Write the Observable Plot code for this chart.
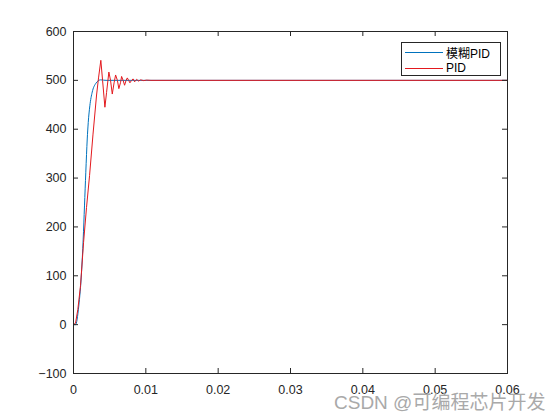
<!DOCTYPE html>
<html>
<head>
<meta charset="utf-8">
<script src="https://cdn.jsdelivr.net/npm/d3@7"></script>
<script src="https://cdn.jsdelivr.net/npm/@observablehq/plot@0.6"></script>
<style>
  html, body { margin: 0; padding: 0; background: #fff; }
  #wrap { position: relative; width: 560px; height: 420px; overflow: hidden; }
  #legend { position: absolute; left: 401px; top: 42px; width: 98px; height: 32px; background: #fff;
    border: 1px solid #262626; font-family: "Liberation Sans", "Noto Sans CJK SC", sans-serif; font-size: 12px; color: #000; }
  .item { position: absolute; left: 3px; height: 14px; display: flex; align-items: center; }
  .item span.l { display: inline-block; width: 38px; height: 0; border-top: 1px solid; margin-right: 3px; }
  #wm { position: absolute; left: 334px; top: 393px; font-family: "Liberation Sans", "Noto Sans CJK SC", sans-serif;
    font-size: 19px; line-height: 1; color: #a9a9a9; white-space: nowrap; }
</style>
</head>
<body>
<div id="wrap"></div>
<script>
// Fuzzy PID (模糊PID) step response
const tFuzzy = [0, 0.00028, 0.00073, 0.00111, 0.00134, 0.00152, 0.0017, 0.0019, 0.00204, 0.00226, 0.00259, 0.00305, 0.00374, 0.0045, 0.06];
const yFuzzy = [0, 0, 38, 107, 175, 243, 312, 380, 414, 448, 476, 493, 501, 500, 500];
// Conventional PID step response
const tPid = [0, 0.00028, 0.0006, 0.00097, 0.00139, 0.0018, 0.00222, 0.0027, 0.00319, 0.00346, 0.00378, 0.00402, 0.00434, 0.00457, 0.00489, 0.00512, 0.00536, 0.00561, 0.00582, 0.00607, 0.00627, 0.00651, 0.00665, 0.00686, 0.00706, 0.00727, 0.00744, 0.00762, 0.0078, 0.00803, 0.00824, 0.00845, 0.00873, 0.009, 0.00928, 0.0097, 0.0101, 0.0107, 0.06];
const yPid = [0, 3, 31, 80, 168, 240, 305, 390, 470, 505, 541, 500, 445, 475, 517, 500, 472, 495, 511, 500, 483, 496, 508, 500, 490, 500, 505, 500, 495, 500, 503, 497, 502, 498.5, 501, 499.5, 500.5, 500, 500];

const xTicks = [0, 0.01, 0.02, 0.03, 0.04, 0.05, 0.06];
const yTicks = [-100, 0, 100, 200, 300, 400, 500, 600];
const seriesNames = ["模糊PID", "PID"];
const seriesColors = ["#0072bd", "#e3191e"];

const fuzzy = tFuzzy.map((t, i) => ({t, v: yFuzzy[i]}));
const pid = tPid.map((t, i) => ({t, v: yPid[i]}));

const W = 560, H = 420, mL = 73, mR = 53, mT = 31, mB = 47;
const iw = W - mL - mR, ih = H - mT - mB, tk = 5;
const axisColor = "#262626";

const chart = Plot.plot({
  width: W, height: H,
  marginLeft: mL, marginRight: mR, marginTop: mT, marginBottom: mB,
  style: {fontFamily: "Liberation Sans, Arial, sans-serif", fontSize: "12.5px", color: axisColor, background: "#fff"},
  x: {domain: [0, 0.06], ticks: xTicks, tickFormat: d => String(d)},
  y: {domain: [-100, 600], ticks: yTicks},
  marks: [
    Plot.line(fuzzy, {x: "t", y: "v", stroke: seriesColors[0], strokeWidth: 1, curve: "monotone-x"}),
    Plot.line(pid, {x: "t", y: "v", stroke: seriesColors[1], strokeWidth: 1}),
    Plot.tickY(yTicks, {y: d => d, insetRight: iw - tk, stroke: axisColor}),
    Plot.tickY(yTicks, {y: d => d, insetLeft: iw - tk, stroke: axisColor}),
    Plot.tickX(xTicks, {x: d => d, insetTop: ih - tk, stroke: axisColor}),
    Plot.tickX(xTicks, {x: d => d, insetBottom: ih - tk, stroke: axisColor}),
    Plot.frame({stroke: axisColor, strokeWidth: 1}),
    Plot.axisY(yTicks, {tickSize: 0, tickPadding: 7, label: null}),
    Plot.axisX(xTicks, {tickSize: 0, tickPadding: 12, label: null, tickFormat: d => String(d)})
  ]
});

const wrap = document.getElementById("wrap");
wrap.appendChild(chart);

const legend = document.createElement("div");
legend.id = "legend";
seriesNames.forEach((name, i) => {
  const it = document.createElement("div");
  it.className = "item";
  it.style.top = (i === 0 ? 2 : 18) + "px";
  const l = document.createElement("span");
  l.className = "l";
  l.style.borderTopColor = seriesColors[i];
  const s = document.createElement("span");
  s.textContent = name;
  it.appendChild(l); it.appendChild(s);
  legend.appendChild(it);
});
wrap.appendChild(legend);

const wm = document.createElement("div");
wm.id = "wm";
wm.textContent = "CSDN @可编程芯片开发";
wrap.appendChild(wm);
</script>
</body>
</html>
